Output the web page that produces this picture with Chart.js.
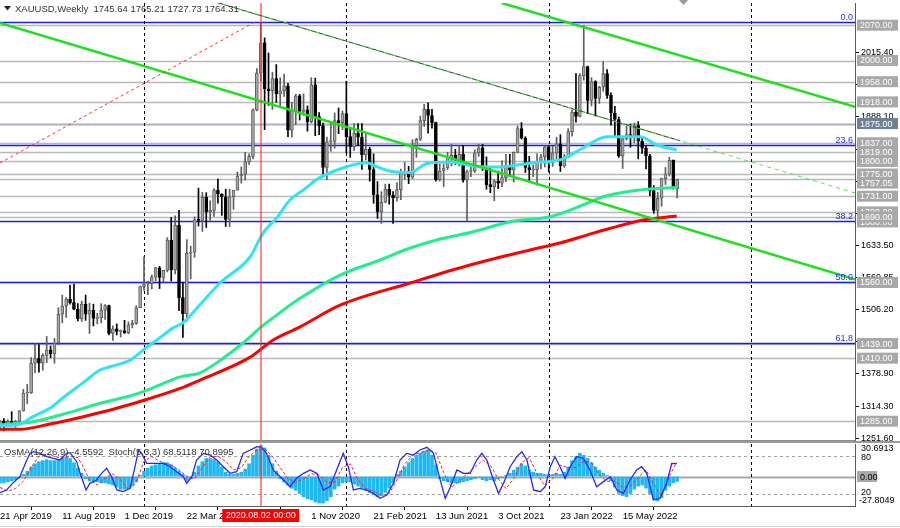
<!DOCTYPE html>
<html>
<head>
<meta charset="utf-8">
<script src="https://cdn.jsdelivr.net/npm/chart.js@4.4.1/dist/chart.umd.min.js"></script>
<style>
html, body { margin: 0; padding: 0; background: #fff; }
#wrap { position: relative; width: 900px; height: 528px; overflow: hidden; }
canvas { position: absolute; left: 0; }
#main { top: 0; }
#sub { top: 441px; }
</style>
</head>
<body>
<div id="wrap">
	<canvas id="main" width="900" height="441"></canvas>
	<canvas id="sub" width="900" height="87"></canvas>
</div>
<script>
"use strict";

// Weekly candles, index 0 = week of 21 Apr 2019

var candleOpen = [1275.6,1285.9,1280.5,1285,1277,1284.5,1305.5,1341,1341.5,1400,1409,1400,1415.5,1426,1419,1440,1497,1513,1527,1520,
	1507,1488,1517,1497,1505,1489,1490,1505,1514,1459,1468,1463,1464,1460,1476,1479,1510,1552,1557,1557.5,
	1571,1589,1570,1584,1644,1585,1674,1530,1498,1618,1620,1684,1683,1729,1700,1703,1743,1735,1730,1685,
	1730,1743,1771,1774,1799,1810,1902,1975,2035,1944,1940,1964,1934,1940,1950,1862,1900,1930,1899,1902,
	1879,1952,1889,1871,1788,1839,1839.5,1881,1877,1895,1849,1829,1856,1848,1813,1824,1784,1734,1700,1719,
	1745,1733,1728,1744,1777,1777.5,1769,1831,1844,1881,1903,1891,1877,1764,1781,1787,1808,1812,1802,1814,
	1763,1780,1781,1817,1827,1788,1754,1750,1761,1757,1768,1792,1783,1818,1865,1846,1788,1783,1783.5,1798,
	1809,1829,1797,1817,1835,1791,1808,1859,1898,1889,1970,1988,1921,1958,1925,1947,1974,1931,1896,1883,
	1811,1845,1853,1851,1871,1840,1826,1811,1742,1703,1727,1766,1775,1802,1745.64];
var candleHigh = [1287,1290,1288,1304,1287,1306,1348,1358,1411,1439,1437,1419,1453,1434,1449,1510,1535,1530,1555,1557,
	1518,1523,1535,1519,1517,1499,1518,1516,1515,1474,1478,1466,1485,1482,1485,1514,1553,1611,1563,1575,
	1590,1592,1584,1649,1689,1692,1703,1560,1645,1632,1690,1747,1739,1738,1722,1746,1765,1736,1745,1745,
	1738,1779,1789,1818,1815,1904,1984,2075,2045,2015,1977,1992,1966,1973,1955,1917,1933,1933,1934,1910,
	1966,1965,1897,1876,1848,1875,1896,1906,1900,1959,1865,1875,1875,1875,1855,1828,1815,1760,1740,1755,
	1755,1740,1758,1785,1798,1790,1843,1846,1890,1913,1916,1903,1878,1795,1795,1818,1834,1824,1832,1832,
	1783,1795,1823,1834,1834,1809,1787,1764,1781,1801,1814,1814,1819,1870,1877,1849,1810,1793,1815,1814,
	1831,1831,1830,1848,1853,1814,1865,1902,1974,1974,2070,1989,1966,1960,1949,1998,1982,1936,1909,1888,
	1849,1870,1874,1876,1879,1847,1830,1814,1752,1739,1767,1788,1808,1803,1765.21];
var candleLow = [1266.1,1266,1275,1276,1273,1278,1305,1320,1340,1381,1382,1386,1401,1411,1400,1437,1480,1491,1517,1506,
	1484,1483,1485,1459,1474,1478,1480,1487,1456,1445,1456,1452,1459,1458,1470,1477,1510,1545,1536,1547,
	1563,1548,1562,1581,1563,1577,1504,1451,1483,1567,1610,1672,1661,1669,1683,1691,1717,1693,1671,1671,
	1705,1743,1757,1763,1794,1805,1900,1960,1863,1911,1903,1917,1907,1929,1849,1848,1873,1882,1891,1860,
	1876,1851,1853,1775,1764,1820,1826,1855,1863,1817,1808,1822,1831,1784,1803,1761,1717,1687,1677,1718,
	1715,1677,1721,1724,1764,1756,1766,1808,1841,1869,1856,1866,1761,1761,1750,1784,1791,1794,1791,1759,
	1682,1770,1778,1810,1782,1745,1738,1722,1746,1750,1760,1772,1759,1817,1844,1778,1762,1770,1753,1785,
	1789,1779,1790,1805,1780,1788,1807,1850,1878,1888,1961,1895,1910,1890,1915,1939,1925,1872,1850,1808,
	1786,1842,1828,1837,1805,1816,1785,1732,1697,1688,1711,1754,1771,1745,1727.73];
var candleClose = [1285.9,1280.5,1285,1277,1284.5,1305.5,1341,1341.5,1400,1409,1400,1415.5,1426,1419,1440,1497,1513,1527,1520,1507,
	1488,1517,1497,1505,1489,1490,1505,1514,1459,1468,1463,1464,1460,1476,1479,1510,1552,1557,1557.5,1571,
	1589,1570,1584,1644,1585,1674,1530,1498,1618,1620,1684,1683,1729,1700,1703,1743,1735,1730,1685,1730,
	1743,1771,1774,1799,1810,1902,1975,2035,1944,1940,1964,1934,1940,1950,1862,1900,1930,1899,1902,1879,
	1952,1889,1871,1788,1839,1839.5,1881,1877,1895,1849,1829,1856,1848,1813,1824,1784,1734,1700,1719,1745,
	1733,1728,1744,1777,1777.5,1769,1831,1844,1881,1903,1891,1877,1764,1781,1787,1808,1812,1802,1814,1763,
	1780,1781,1817,1827,1788,1754,1750,1761,1757,1768,1792,1783,1818,1865,1846,1788,1783,1783.5,1798,1809,
	1829,1797,1817,1835,1791,1808,1859,1898,1889,1970,1988,1921,1958,1925,1947,1974,1931,1896,1883,1811,
	1845,1853,1851,1871,1840,1826,1811,1742,1703,1727,1766,1775,1802,1747,1764.31];

// Moving averages: [week index, price]
var maCyan = [[0,1276],[4.3,1277.5],[8.5,1294],[12.9,1311],[17.1,1337],[21.3,1361],[25.7,1386.5],[28.3,1393],
	[32.6,1403],[34.2,1410],[36.8,1426],[40.3,1446],[44.5,1470],[47,1480],[50.6,1509],[56.5,1559],[64.3,1611],
	[67.6,1658],[71.1,1688],[74.5,1723.5],[77.9,1743],[81.4,1764],[85.6,1780],[89.1,1789.5],[94.2,1797.5],
	[96.8,1789.5],[101,1779.6],[105.4,1778],[109.7,1796],[115.7,1799],[121.6,1791],[125.9,1789],[129.3,1789.5],
	[137,1797.5],[143.9,1803],[149.8,1826.6],[155.9,1849],[164.5,1849],[168.8,1832.5],[173.9,1822.6]];
var maGreen = [[0,1277.5],[8.5,1284],[17.1,1300.7],[25.7,1320.5],[34.2,1337],[36.8,1343.5],[41.1,1357],[46.3,1373],
	[51.4,1381],[57,1408],[63.4,1446],[66.8,1470],[69.4,1485.6],[77.1,1528.6],[87.4,1574.8],[97.7,1604.6],
	[105.4,1628.3],[112.2,1644.2],[121.6,1660.6],[131.1,1680.5],[141.4,1690.4],[149.8,1713.6],[155,1730],
	[161.1,1740],[167,1745.3],[173.9,1748.3]];
var maRed = [[0,1269],[5.1,1269],[12.9,1279.5],[21.4,1294],[30,1310.6],[36.8,1326],[46.3,1350],[51.4,1366.7],
	[64.3,1412],[70.2,1446],[77.1,1472],[87.4,1515],[105.4,1559],[120.8,1594.6],[136.2,1624.4],[143.9,1638.3],
	[150.8,1654],[156.8,1667.4],[165.3,1684],[173.9,1691.8]];

// Horizontal levels and Fibonacci levels
var grayLevels = [2070, 2000, 1958, 1918, 1837, 1819, 1800, 1775, 1764.31, 1731, 1700, 1690, 1560, 1439, 1410, 1285];
var darkLevel = 1875;
var fibLevels = [2075.4, 1832.6, 1682.7, 1561.5, 1440.3];
var fibNames = ["0.0", "23.6", "38.2", "50.0", "61.8"];
var priceBoxes = [2070, 2000, 1958, 1918, 1875, 1837, 1819, 1800, 1775, 1757.05, 1731, 1700, 1680, 1690, 1560, 1439, 1410, 1285];
var priceTicks = [2015.40, 1951.75, 1888.10, 1824.45, 1760.80, 1697.15, 1633.50, 1569.85, 1506.20, 1442.55, 1378.90, 1314.30, 1251.60];

// Trend lines: [week from, price from, week to, price to]
var greenTrends = [[0, 2074.4, 219.7, 1566.3], [128.9, 2114, 219.7, 1908]];
var thinTrend = [55.3, 2116, 219.7, 1737.4];
var redTrend = [0, 1796.8, 65.5, 2076.3];

// Time axis
var yearMarks = [37, 89, 141, 193];
var markedWeek = 67;
var dateTicks = [0, 16, 32, 48, 64, 80, 96, 112, 128, 144, 160];
var dateNames = ["21 Apr 2019", "11 Aug 2019", "1 Dec 2019", "22 Mar 2020", "12 Jul 2020", "1 Nov 2020",
	"21 Feb 2021", "13 Jun 2021", "3 Oct 2021", "23 Jan 2022", "15 May 2022"];

// OsMA(12,26,9) histogram, one value per week
var osma = [-6,-6,-5,-4,-3,-1,2,5,9,12,14,15,16,15,15,16,17,18,17,13,8,3,
	-2,-4,-5,-5,-6,-6,-7,-8,-10,-12,-12,-11,-9,-5,
	1,5,8,10,11,12,13,13,11,8,5,2,
	-4,-2,
	4,10,14,17,17,16,14,9,4,2,2,3,4,7,12,20,26,29,27,20,12,5,
	-2,-5,-8,-11,-13,-16,-19,-21,-22,-24,-25,-25,-23,-19,-12,
	-9,-6,-5,-5,-7,-9,-11,-13,-15,-17,-19,-18,-15,-11,-6,
	2,5,9,13,17,20,22,24,25,20,11,
	-2,-4,-5,-6,-6,-6,-5,-4,-3,-2,-1,-3,-4,-3,-4,-2,-1,1,
	3,6,9,12,10,6,4,3,3,2,1,2,3,2,4,
	9,15,19,22,20,17,13,9,6,3,1,
	-4,-10,-16,-18,-19,-16,-12,-9,-8,-11,-16,-21,-23,-20,-13,-9,-6,-4.56];

// Stochastic(5,3,3): [week index, value]
var stochMain = [[0,21.5],[1.7,25.8],[3.4,37.6],[5.1,47.3],[6.9,74.2],[7.7,84.9],[8.6,87.6],[10.3,84.9],[12,79.6],
	[13.7,76.9],[15.4,74.2],[17.1,84.9],[18,86],[19.7,71.5],[20.6,52.7],[22.1,25.8],[23.1,36.6],[24.8,42],
	[26.1,52.7],[27.4,60.8],[28.7,47.3],[30,25.8],[31.7,23.1],[33.4,28.5],[34.7,63.4],[35.6,90.3],[36.4,84.9],
	[37.7,68.8],[39.4,68.8],[42,68.8],[43.7,63.4],[45.4,55.4],[47.1,47.3],[48,36.6],[49.3,47.3],[50.5,74.2],
	[52.3,84.9],[54,82.2],[55.7,74.2],[57.4,63.4],[59.1,52.7],[60.8,55.4],[62.5,84.9],[64.3,90.3],[66,95.7],
	[67.2,94.6],[68.5,84.9],[70.2,58.1],[72,47.3],[74.5,31.2],[76.2,44.6],[78,52.7],[79.7,58.1],[81.4,52.7],
	[83.1,25.8],[84.8,31.2],[86.5,58.1],[88.2,84.9],[89.5,63.4],[90.8,25.8],[92.5,28.5],[94.2,25.8],[95.9,20.4],
	[97.7,12.4],[99.4,17.7],[101.1,36.6],[102.8,74.2],[104.5,84.9],[106.2,82.2],[107.9,90.3],[109.7,94.6],
	[111.4,84.9],[113.1,42],[114.4,12.4],[115.7,30],[117.4,58.1],[119.1,52.7],[120.8,52.7],[122.5,74.2],
	[123.8,84.9],[125.1,74.2],[126.8,42],[128.1,20.4],[129.4,36.6],[131.1,63.4],[132.8,79.6],[134.1,87.6],
	[135.4,74.2],[137.1,25.8],[138.8,23.1],[140.1,31.2],[141.4,63.4],[142.6,79.6],[143.9,63.4],[145.2,44.6],
	[146.5,63.4],[148.2,79.6],[149.9,76.9],[151.6,58.1],[153.3,31.2],[155.1,39.3],[156.8,47.3],[158.5,25.8],
	[160.2,20.4],[161.9,42],[163.6,58.1],[164.9,63.4],[166.2,52.7],[167.9,9.7],[169.6,12.4],[171.3,36.6],
	[172.6,68.8],[173.9,68.5]];
var stochSignal = [[0,30],[2,24],[4,28],[6,40],[8,62],[10,80],[12,84],[14,80],[16,77],[18,80],[20,78],[21.5,62],
	[23,42],[25,34],[27,45],[29,52],[31,42],[33,26],[35,38],[37,72],[39,80],[41,72],[44,66],[46,58],[48,48],
	[50,44],[52,62],[54,80],[56,80],[58,72],[60,58],[62,62],[64,80],[66,90],[68,92],[70,80],[72,62],[74,44],
	[76,38],[78,44],[80,52],[82,50],[84,38],[86,38],[88,62],[90,68],[92,42],[94,28],[96,24],[98,17],[100,20],
	[102,42],[104,68],[106,82],[108,86],[110,90],[112,86],[114,54],[116,30],[118,40],[120,52],[122,62],[124,74],
	[126,66],[128,44],[130,28],[132,44],[134,70],[136,78],[138,52],[140,32],[142,44],[144,66],[146,62],[148,62],
	[150,72],[152,70],[154,50],[156,40],[158,40],[160,30],[162,32],[164,46],[166,58],[168,35],[170,16],[172,48],
	[173.9,70.9]];

// Styling

var FONT = '"Liberation Sans", Arial, sans-serif';
var X_MAX = 219.7;
var BULL_FILL = "#a9a9a9", BULL_LINE = "#5e5e5e", BEAR = "#000000";

Chart.defaults.font.family = FONT;
Chart.defaults.font.size = 9;
Chart.defaults.color = "#000";

function toPoints(pairs) {
	return pairs.map(function (p) { return { x: p[0], y: p[1] }; });
}

function strokeLine(ctx, x1, y1, x2, y2, color, width, dash) {
	ctx.save();
	ctx.strokeStyle = color;
	ctx.lineWidth = width;
	ctx.setLineDash(dash || []);
	ctx.beginPath();
	ctx.moveTo(x1, y1);
	ctx.lineTo(x2, y2);
	ctx.stroke();
	ctx.restore();
}

function clipArea(ctx, area) {
	ctx.save();
	ctx.beginPath();
	ctx.rect(area.left, area.top, area.right - area.left, area.bottom - area.top);
	ctx.clip();
}

function drawBox(ctx, x, y, w, h, bg, fg, text, align) {
	ctx.fillStyle = bg;
	ctx.fillRect(x, y - h / 2, w, h);
	ctx.fillStyle = fg;
	ctx.textBaseline = "middle";
	ctx.textAlign = align || "left";
	ctx.fillText(text, align === "center" ? x + w / 2 : x + 3, y + 0.5);
}

function drawSeparators(chart) {
	var ctx = chart.ctx, a = chart.chartArea, sx = chart.scales.x;
	yearMarks.forEach(function (w) {
		var x = Math.round(sx.getPixelForValue(w)) + 0.5;
		if (x < a.right) strokeLine(ctx, x, a.top, x, a.bottom, "#000", 1, [3, 3]);
	});
}

function drawMarkedWeek(chart) {
	var x = Math.round(chart.scales.x.getPixelForValue(markedWeek));
	strokeLine(chart.ctx, x, chart.chartArea.top, x, chart.chartArea.bottom, "rgba(255,40,40,0.55)", 2);
}

// Main price panel

var isBull = candleOpen.map(function (o, i) { return candleClose[i] >= o; });

var mainDecor = {
	id: "mainDecor",
	beforeDatasetsDraw: function (chart) {
		var ctx = chart.ctx, a = chart.chartArea, sy = chart.scales.y;
		clipArea(ctx, a);
		grayLevels.forEach(function (p) {
			var y = Math.round(sy.getPixelForValue(p)) + 0.5;
			strokeLine(ctx, a.left, y, a.right, y, "#b9b9b9", 1.5);
		});
		var yd = Math.round(sy.getPixelForValue(darkLevel)) + 0.5;
		strokeLine(ctx, a.left, yd, a.right, yd, "#a9b1bf", 2);
		fibLevels.forEach(function (p) {
			var y = Math.round(sy.getPixelForValue(p)) + 0.5;
			strokeLine(ctx, a.left, y, a.right, y, "#1a1aff", 1.3);
		});
		drawSeparators(chart);
		ctx.restore();
	},
	afterDatasetsDraw: function (chart) {
		var ctx = chart.ctx, a = chart.chartArea, sx = chart.scales.x, sy = chart.scales.y;
		function seg(t, color, width, dash) {
			strokeLine(ctx, sx.getPixelForValue(t[0]), sy.getPixelForValue(t[1]),
				sx.getPixelForValue(t[2]), sy.getPixelForValue(t[3]), color, width, dash);
		}
		clipArea(ctx, a);
		greenTrends.forEach(function (t) { seg(t, "#1ee01e", 2.5); });
		// thin trend: solid dark part up to the last bar, green dashes all the way
		var k = (174.8 - thinTrend[0]) / (thinTrend[2] - thinTrend[0]);
		seg([thinTrend[0], thinTrend[1], 174.8, thinTrend[1] + k * (thinTrend[3] - thinTrend[1])], "#2a3a2a", 1);
		seg(thinTrend, "#44ee44", 1, [4, 4]);
		seg(redTrend, "#ff3030", 1, [3, 3]);
		drawMarkedWeek(chart);
		ctx.restore();

		// Fibonacci level names
		ctx.save();
		ctx.font = "9px " + FONT;
		ctx.fillStyle = "#2828ff";
		ctx.textAlign = "right";
		ctx.textBaseline = "alphabetic";
		fibLevels.forEach(function (p, i) {
			var y = sy.getPixelForValue(p) - 2;
			if (y < 12) y = 10;
			ctx.fillText(fibNames[i], a.right - 2, y);
		});
		// header
		ctx.fillStyle = "#222";
		ctx.beginPath();
		ctx.moveTo(4, 6); ctx.lineTo(11, 6); ctx.lineTo(7.5, 10.5); ctx.closePath();
		ctx.fill();
		ctx.font = "9.5px " + FONT;
		ctx.textAlign = "left";
		ctx.textBaseline = "middle";
		ctx.fillStyle = "#333";
		ctx.fillText("XAUUSD,Weekly  1745.64 1765.21 1727.73 1764.31", 15, 9);
		// chart shift marker
		ctx.fillStyle = "#9a9a9a";
		ctx.beginPath();
		ctx.moveTo(679, 0); ctx.lineTo(688, 0); ctx.lineTo(683.5, 5); ctx.closePath();
		ctx.fill();
		strokeLine(ctx, 0, a.bottom - 0.5, a.right, a.bottom - 0.5, "#8c8c8c", 1);
		ctx.restore();
	},
	afterDraw: function (chart) {
		var ctx = chart.ctx, sy = chart.scales.y;
		ctx.save();
		ctx.font = "9px " + FONT;
		priceBoxes.forEach(function (p) {
			var y = sy.getPixelForValue(p);
			var dark = p === darkLevel;
			drawBox(ctx, 857, y, 41, 11, dark ? "#6f7f93" : "#a8a8a8", "#ffffff", p.toFixed(2));
		});
		ctx.restore();
	}
};

var mainChart = new Chart(document.getElementById("main"), {
	data: {
		datasets: [
			{ type: "line", data: toPoints(maCyan), borderColor: "#30e4f0", borderWidth: 3, pointRadius: 0,
				cubicInterpolationMode: "monotone", order: 0 },
			{ type: "line", data: toPoints(maGreen), borderColor: "#22ee90", borderWidth: 3, pointRadius: 0,
				cubicInterpolationMode: "monotone", order: 0 },
			{ type: "line", data: toPoints(maRed), borderColor: "#ff0000", borderWidth: 3, pointRadius: 0,
				cubicInterpolationMode: "monotone", order: 0 },
			{ type: "bar", order: 1, grouped: false, barThickness: 3, minBarLength: 1, borderWidth: 1, borderSkipped: false,
				data: candleOpen.map(function (o, i) { return { x: i, y: [o, candleClose[i]] }; }),
				backgroundColor: isBull.map(function (b) { return b ? BULL_FILL : BEAR; }),
				borderColor: isBull.map(function (b) { return b ? BULL_LINE : BEAR; }) },
			{ type: "bar", order: 2, grouped: false, barThickness: 1, borderWidth: 0,
				data: candleLow.map(function (l, i) { return { x: i, y: [l, candleHigh[i]] }; }),
				backgroundColor: isBull.map(function (b) { return b ? BULL_LINE : BEAR; }) }
		]
	},
	options: {
		responsive: false,
		animation: false,
		events: [],
		layout: { padding: { top: 3, left: 0, right: 0, bottom: 0 } },
		plugins: { legend: { display: false }, tooltip: { enabled: false } },
		scales: {
			x: { type: "linear", min: 0, max: X_MAX, offset: false, display: false },
			y: {
				position: "right", min: 1245.8, max: 2114,
				afterBuildTicks: function (s) { s.ticks = priceTicks.map(function (v) { return { value: v }; }); },
				afterFit: function (s) { s.width = 45; s.paddingTop = 0; s.paddingBottom = 0; },
				ticks: { padding: 2, font: { size: 9 }, color: "#000",
					callback: function (v) { return Number(v).toFixed(2); } },
				grid: { drawOnChartArea: false, tickLength: 4, color: "#000" },
				border: { color: "#5a5a5a", width: 1 }
			}
		}
	},
	plugins: [mainDecor]
});

// Indicator panel

var subDecor = {
	id: "subDecor",
	beforeDatasetsDraw: function (chart) {
		var ctx = chart.ctx, a = chart.chartArea;
		var so = chart.scales.osma, ss = chart.scales.stoch;
		clipArea(ctx, a);
		[80, 20].forEach(function (v) {
			var y = Math.round(ss.getPixelForValue(v)) + 0.5;
			strokeLine(ctx, a.left, y, a.right, y, "#a0a0a0", 1, [3, 3]);
		});
		var y0 = Math.round(so.getPixelForValue(0)) + 0.5;
		strokeLine(ctx, a.left, y0, a.right, y0, "#a8a8a8", 2);
		drawSeparators(chart);
		ctx.restore();
	},
	afterDatasetsDraw: function (chart) {
		var ctx = chart.ctx, a = chart.chartArea;
		clipArea(ctx, a);
		drawMarkedWeek(chart);
		ctx.restore();
		ctx.save();
		ctx.font = "9.5px " + FONT;
		ctx.fillStyle = "#333";
		ctx.textAlign = "left";
		ctx.textBaseline = "middle";
		ctx.fillText("OsMA(12,26,9) -4.5592  Stoch(5,3,3) 68.5118 70.8995", 4, a.top + 8);
		ctx.restore();
	},
	afterDraw: function (chart) {
		var ctx = chart.ctx, a = chart.chartArea;
		var so = chart.scales.osma, ss = chart.scales.stoch;
		ctx.save();
		strokeLine(ctx, 0, 1, 900, 1, "#9a9a9a", 2);
		strokeLine(ctx, 0, 85.5, 900, 85.5, "#d4d4d4", 1);
		ctx.font = "9px " + FONT;
		ctx.fillStyle = "#000";
		ctx.textAlign = "left";
		ctx.textBaseline = "middle";
		ctx.fillText("30.6913", 861, a.top + 5);
		ctx.fillText("80", 861, ss.getPixelForValue(80) + 1);
		ctx.fillText("20", 861, ss.getPixelForValue(20) - 1);
		ctx.fillText("-27.8049", 859, a.bottom - 5);
		drawBox(ctx, 857, so.getPixelForValue(0), 20, 11, "#a8a8a8", "#000", "0.00");
		// highlighted date of the marked week
		var x = chart.scales.x.getPixelForValue(markedWeek);
		drawBox(ctx, x - 38.5, a.bottom + 9.5, 77, 13, "#ff0000", "#ffffff", "2020.08.02 00:00", "center");
		ctx.restore();
	}
};

var subChart = new Chart(document.getElementById("sub"), {
	data: {
		datasets: [
			{ type: "line", yAxisID: "stoch", data: toPoints(stochMain), borderColor: "#2626ff", borderWidth: 1.3,
				pointRadius: 0, order: 0 },
			{ type: "line", yAxisID: "stoch", data: toPoints(stochSignal), borderColor: "#ff2020", borderWidth: 1,
				borderDash: [3, 2], pointRadius: 0, order: 1 },
			{ type: "bar", yAxisID: "osma", barThickness: 3, order: 2,
				data: osma.map(function (v, i) { return { x: i, y: v }; }),
				backgroundColor: "#1fb9f2" }
		]
	},
	options: {
		responsive: false,
		animation: false,
		events: [],
		layout: { padding: { top: 3, left: 0, right: 0, bottom: 0 } },
		plugins: { legend: { display: false }, tooltip: { enabled: false } },
		scales: {
			x: {
				type: "linear", min: 0, max: X_MAX, offset: false, position: "bottom",
				afterBuildTicks: function (s) { s.ticks = dateTicks.map(function (v) { return { value: v }; }); },
				afterFit: function (s) { s.height = 22; s.paddingLeft = 0; s.paddingRight = 0; },
				ticks: { align: "start", maxRotation: 0, autoSkip: false, padding: 1, font: { size: 9.5 }, color: "#000",
					callback: function (v) { return dateNames[dateTicks.indexOf(v)]; } },
				grid: { drawOnChartArea: false, tickLength: 4, color: "#000" },
				border: { color: "#5a5a5a", width: 1 }
			},
			osma: {
				position: "right", min: -27.8049, max: 30.6913,
				afterFit: function (s) { s.width = 45; s.paddingTop = 0; s.paddingBottom = 0; },
				ticks: { display: false },
				grid: { drawOnChartArea: false, drawTicks: false },
				border: { color: "#5a5a5a", width: 1 }
			},
			stoch: { display: false, min: 0, max: 100 }
		}
	},
	plugins: [subDecor]
});
</script>
</body>
</html>
